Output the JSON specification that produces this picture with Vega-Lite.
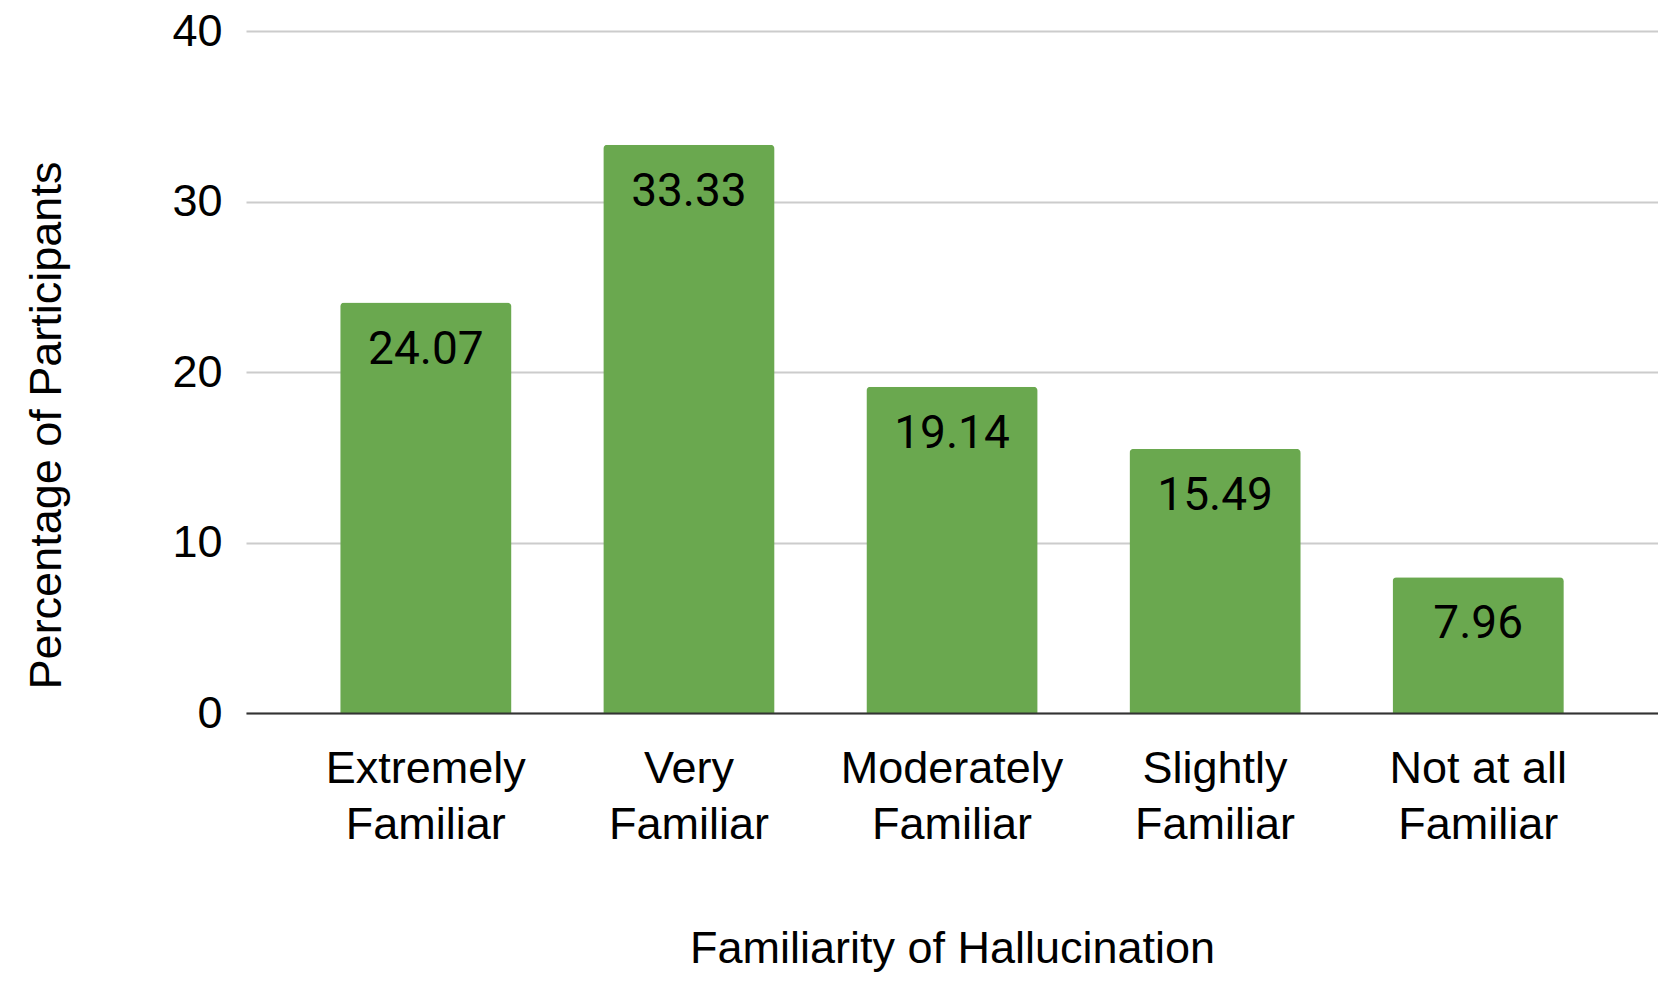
{
  "$schema": "https://vega.github.io/schema/vega-lite/v6.json",
  "width": 1412,
  "height": 682,
  "autosize": {"type": "none"},
  "padding": {"left": 246, "top": 31, "right": 0, "bottom": 277},
  "background": "white",
  "data": {
    "values": [
      {"familiarity": "Extremely Familiar", "pct": 24.07},
      {"familiarity": "Very Familiar", "pct": 33.33},
      {"familiarity": "Moderately Familiar", "pct": 19.14},
      {"familiarity": "Slightly Familiar", "pct": 15.49},
      {"familiarity": "Not at all Familiar", "pct": 7.96}
    ]
  },
  "config": {
    "view": {"stroke": null},
    "axis": {
      "labelFont": "Liberation Sans",
      "titleFont": "Liberation Sans",
      "labelFontSize": 45,
      "titleFontSize": 45,
      "labelColor": "#000000",
      "titleColor": "#000000",
      "titleFontWeight": "normal",
      "labelLimit": 0,
      "ticks": false
    }
  },
  "encoding": {
    "x": {
      "field": "familiarity",
      "type": "nominal",
      "sort": null,
      "scale": {"paddingInner": 0.349, "paddingOuter": 0.358},
      "title": "Familiarity of Hallucination",
      "axis": {
        "labelAngle": 0,
        "labelExpr": "[slice(datum.value, 0, lastindexof(datum.value, ' ')), slice(datum.value, lastindexof(datum.value, ' ') + 1)]",
        "labelBaseline": "top",
        "labelPadding": 33,
        "labelLineHeight": 56,
        "domainColor": "#333333",
        "domainWidth": 2,
        "grid": false,
        "zindex": 1,
        "titleBaseline": "alphabetic",
        "titleY": 249
      }
    },
    "y": {
      "field": "pct",
      "type": "quantitative",
      "scale": {"domain": [0, 40]},
      "title": "Percentage of Participants",
      "axis": {
        "values": [0, 10, 20, 30, 40],
        "domain": false,
        "gridColor": "#cccccc",
        "gridWidth": 2,
        "labelPadding": 24,
        "labelBaseline": "middle",
        "titleBaseline": "alphabetic",
        "titleX": -186,
        "titleY": 394
      }
    }
  },
  "layer": [
    {
      "mark": {
        "type": "bar",
        "color": "#6aa84f",
        "cornerRadiusTopLeft": 4,
        "cornerRadiusTopRight": 4
      }
    },
    {
      "mark": {
        "type": "text",
        "font": "Roboto",
        "fontSize": 46,
        "color": "#000000",
        "baseline": "alphabetic",
        "dy": 61
      },
      "encoding": {
        "text": {"field": "pct", "type": "quantitative", "format": ".2f"}
      }
    }
  ]
}
